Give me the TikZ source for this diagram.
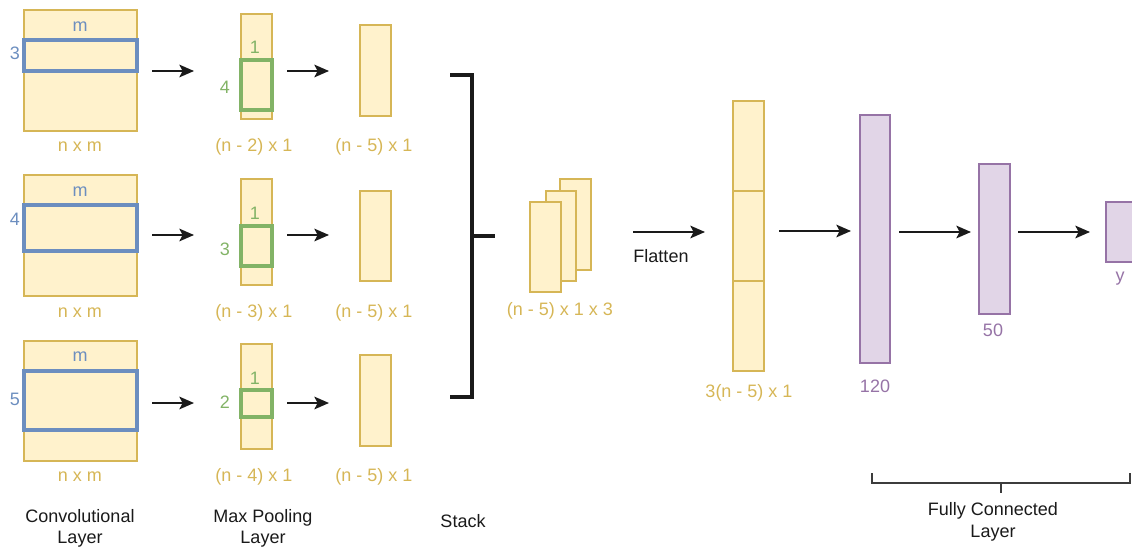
\documentclass[tikz,border=0pt]{standalone}
\usepackage{fontspec}
\setmainfont{Liberation Sans}
\usetikzlibrary{fit,arrows.meta}
\definecolor{yfill}{HTML}{FFF2CC}
\definecolor{ydraw}{HTML}{D6B656}
\definecolor{bdraw}{HTML}{6C8EBF}
\definecolor{gdraw}{HTML}{82B366}
\definecolor{pfill}{HTML}{E1D5E7}
\definecolor{pdraw}{HTML}{9673A6}
\definecolor{ink}{HTML}{1A1A1A}
\tikzset{
  ybox/.style={draw=ydraw,fill=yfill,line width=1.5pt,inner sep=0pt},
  pbox/.style={draw=pdraw,fill=pfill,line width=1.5pt,inner sep=0pt},
  bwin/.style={draw=bdraw,line width=2.3pt,inner sep=0pt},
  gwin/.style={draw=gdraw,line width=2.3pt,inner sep=0pt},
  txt/.style={font=\fontsize{13.5}{16}\selectfont,inner sep=0pt},
  ylab/.style={txt,text=ydraw},
  blab/.style={txt,text=bdraw},
  glab/.style={txt,text=gdraw},
  plab/.style={txt,text=pdraw},
  klab/.style={txt,text=ink,align=center},
  arr/.style={draw=ink,line width=1.5pt,-{Stealth[length=11pt,width=9.5pt,inset=2.5pt]}},
}
\begin{document}
\begin{tikzpicture}[x=0.75pt,y=-0.75pt]
\useasboundingbox (0,0) rectangle (1132,550);
% convolution inputs
\node[ybox,fit={(24,10)(137,131)}] (c1) {};
\node[bwin,fit={(24,40)(137,71)}] (b1) {};
\node[ybox,fit={(24,175)(137,296)}] (c2) {};
\node[bwin,fit={(24,205)(137,251)}] (b2) {};
\node[ybox,fit={(24,341)(137,461)}] (c3) {};
\node[bwin,fit={(24,371)(137,430)}] (b3) {};
\node[blab] (m1) at (80,27) {m};
\node[blab] (m2) at (80,192) {m};
\node[blab] (m3) at (80,357) {m};
\node[blab] (k1) at (15,53) {3};
\node[blab] (k2) at (15,219) {4};
\node[blab] (k3) at (15,399) {5};
\node[ylab] (n1) at (80,147) {n x m};
\node[ylab] (n2) at (80,313) {n x m};
\node[ylab] (n3) at (80,477) {n x m};
% pooling
\node[ybox,fit={(241,14)(272,119)}] (p1) {};
\node[gwin,fit={(241,60)(272,110)}] (g1) {};
\node[ybox,fit={(241,179)(272,285)}] (p2) {};
\node[gwin,fit={(241,226)(272,266)}] (g2) {};
\node[ybox,fit={(241,344)(272,449)}] (p3) {};
\node[gwin,fit={(241,390)(272,417)}] (g3) {};
\node[glab] (w1) at (255,47) {1};
\node[glab] (w2) at (255,213) {1};
\node[glab] (w3) at (255,378) {1};
\node[glab] (h1) at (225,87) {4};
\node[glab] (h2) at (225,249) {3};
\node[glab] (h3) at (225,402) {2};
\node[ylab] (pl1) at (254,147) {(n - 2) x 1};
\node[ylab] (pl2) at (254,313) {(n - 3) x 1};
\node[ylab] (pl3) at (254,477) {(n - 4) x 1};
% outputs
\node[ybox,fit={(360,25)(391,116)}] (o1) {};
\node[ybox,fit={(360,191)(391,281)}] (o2) {};
\node[ybox,fit={(360,355)(391,446)}] (o3) {};
\node[ylab] (ol1) at (374,147) {(n - 5) x 1};
\node[ylab] (ol2) at (374,313) {(n - 5) x 1};
\node[ylab] (ol3) at (374,477) {(n - 5) x 1};
% arrows rows
\draw[arr,shorten <=10.5pt,shorten >=34.5pt] (c1.east |- 0,71) -- (p1.west |- 0,71);
\draw[arr,shorten <=10.5pt,shorten >=34.5pt] (c2.east |- 0,235) -- (p2.west |- 0,235);
\draw[arr,shorten <=10.5pt,shorten >=34.5pt] (c3.east |- 0,403) -- (p3.west |- 0,403);
\draw[arr,shorten <=10.5pt,shorten >=22.5pt] (p1.east |- 0,71) -- (o1.west |- 0,71);
\draw[arr,shorten <=10.5pt,shorten >=22.5pt] (p2.east |- 0,235) -- (o2.west |- 0,235);
\draw[arr,shorten <=10.5pt,shorten >=22.5pt] (p3.east |- 0,403) -- (o3.west |- 0,403);
% bottom labels
\node[klab] (cl) at (80,528.5) {Convolutional\\Layer};
\node[klab] (ml) at (263,528.5) {Max Pooling\\Layer};
\node[klab] (sl) at (463,521) {Stack};
% stack bracket
\coordinate (s1) at (450,75);
\coordinate (s2) at (472,75);
\coordinate (s3) at (472,397);
\coordinate (s4) at (450,397);
\coordinate (sm) at (472,236);
\coordinate (se) at (495,236);
\draw[ink,line width=2.3pt] (s1) -- (s2) -- (s3) -- (s4);
\draw[ink,line width=2.3pt] (sm) -- (se);
% stacked maps
\node[ybox,fit={(560,179)(591,270)}] (t3) {};
\node[ybox,fit={(546,191)(576,281)}] (t2) {};
\node[ybox,fit={(530,202)(561,292)}] (t1) {};
\node[ylab] (tl) at (560,311) {(n - 5) x 1 x 3};
% flatten
\node[ybox,fit={(733,101)(764,191)}] (f1) {};
\node[ybox,fit={(733,191)(764,281)}] (f2) {};
\node[ybox,fit={(733,281)(764,371)}] (f3) {};
\node[ylab] (fl) at (749,393) {3(n - 5) x 1};
\draw[arr,shorten <=30.75pt,shorten >=20.25pt] (t3.east |- 0,232) -- (f2.west |- 0,232);
\node[klab] (fx) at (661,256) {Flatten};
% fully connected
\node[pbox,fit={(860,115)(890,363)}] (d1) {};
\node[pbox,fit={(979,164)(1010,314)}] (d2) {};
\node[pbox,fit={(1106,202)(1137,262)}] (d3) {};
\node[plab] (dl1) at (875,386) {120};
\node[plab] (dl2) at (993,330) {50};
\node[plab] (dl3) at (1120,279) {y};
\draw[arr,shorten <=10.5pt,shorten >=6pt] (f2.east |- 0,231) -- (d1.west |- 0,231);
\draw[arr,shorten <=6pt,shorten >=5.25pt] (d1.east |- 0,232) -- (d2.west |- 0,232);
\draw[arr,shorten <=5.25pt,shorten >=11.25pt] (d2.east |- 0,232) -- (d3.west |- 0,232);
% fc bracket
\coordinate (u1) at (872,473);
\coordinate (u2) at (872,483);
\coordinate (u3) at (1130,483);
\coordinate (u4) at (1130,473);
\coordinate (um) at (1001,483);
\coordinate (ud) at (1001,493);
\draw[ink!85,line width=1.1pt] (u1) -- (u2) -- (u3) -- (u4);
\draw[ink!85,line width=1.1pt] (um) -- (ud);
\node[klab] (fcl) at (993,522) {Fully Connected\\Layer};
\end{tikzpicture}
\end{document}
